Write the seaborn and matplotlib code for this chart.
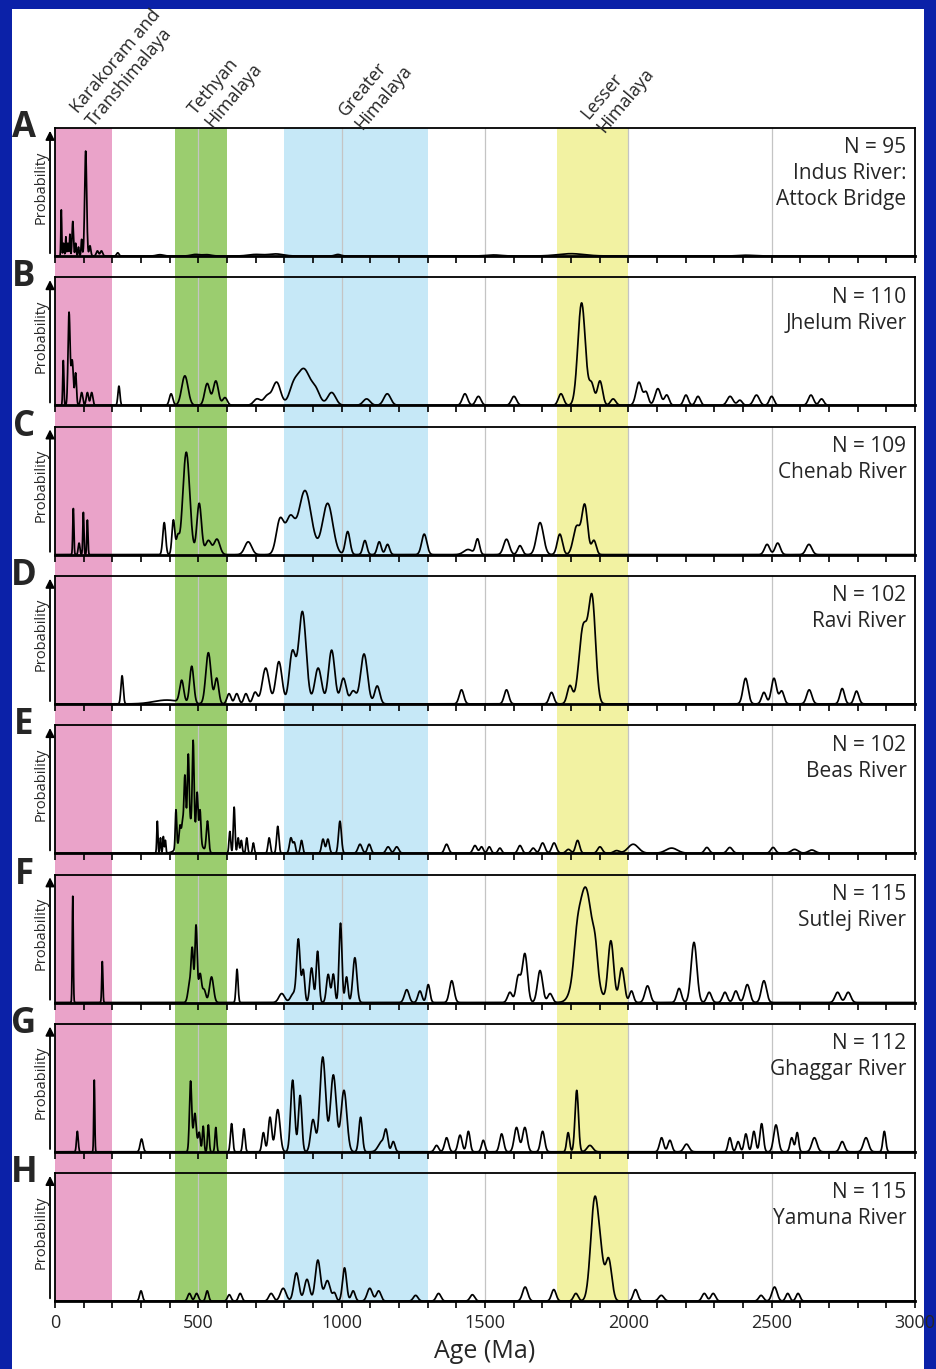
import numpy as np
import seaborn as sns
import matplotlib.pyplot as plt
from matplotlib.patches import Rectangle

# detrital zircon probability curves: (peak age Ma, relative height, 1-sigma Ma)
peaks_A = [(22, .36, 1.5), (30, .10, 2), (38, .15, 1.5), (45, .10, 2), (52, .17, 1.5), (62, .27, 2.5),
           (72, .10, 2), (82, .07, 2), (93, .13, 2), (107, .82, 3.5), (122, .08, 3), (148, .04, 4),
           (162, .04, 4), (219, .025, 4), (366, .01, 12), (490, .012, 15), (530, .01, 15), (700, .012, 25),
           (770, .016, 25), (987, .012, 10), (1530, .008, 25), (1800, .018, 45), (2410, .006, 25)]
peaks_B = [(29, .35, 2), (49, .72, 3.5), (60, .35, 4), (72, .25, 3), (93, .10, 4), (113, .10, 4),
           (128, .10, 4), (223, .15, 3.5), (405, .09, 6), (453, .23, 11), (531, .17, 9), (561, .19, 9),
           (593, .06, 8), (705, .05, 12), (740, .07, 12), (773, .18, 14), (831, .12, 15), (868, .28, 22),
           (910, .10, 15), (965, .10, 14), (1087, .05, 12), (1159, .09, 12), (1430, .09, 9), (1477, .07, 9),
           (1601, .07, 9), (1765, .09, 9), (1837, .80, 13), (1872, .16, 9), (1901, .19, 9), (1947, .05, 9),
           (2037, .18, 10), (2062, .10, 8), (2103, .13, 10), (2134, .08, 8), (2201, .08, 8), (2243, .07, 8),
           (2355, .07, 10), (2389, .04, 8), (2447, .08, 10), (2500, .07, 8), (2637, .08, 9), (2674, .05, 8)]
peaks_C = [(64, .36, 2), (84, .09, 3), (99, .33, 2), (113, .27, 2), (381, .25, 5), (413, .27, 5),
           (428, .12, 5), (458, .80, 12), (503, .40, 8), (535, .11, 10), (565, .12, 10), (674, .10, 12),
           (785, .27, 13), (820, .27, 15), (872, .50, 22), (951, .40, 18), (1021, .18, 8), (1081, .11, 7),
           (1131, .10, 7), (1160, .08, 7), (1288, .16, 9), (1441, .04, 15), (1474, .12, 7), (1575, .12, 10),
           (1622, .07, 8), (1692, .25, 12), (1761, .16, 9), (1820, .22, 12), (1848, .38, 10), (1880, .11, 8),
           (2484, .08, 9), (2521, .09, 9), (2630, .08, 10)]
peaks_D = [(234, .22, 4), (390, .03, 45), (442, .17, 7), (477, .29, 7), (535, .40, 9), (564, .20, 7),
           (607, .08, 7), (634, .08, 7), (666, .08, 7), (698, .09, 8), (735, .28, 12), (781, .33, 11),
           (828, .40, 11), (863, .72, 13), (918, .28, 12), (965, .42, 11), (1006, .20, 10), (1040, .10, 10),
           (1078, .39, 12), (1124, .14, 9), (1418, .11, 8), (1575, .11, 8), (1732, .09, 8), (1796, .14, 9),
           (1843, .60, 15), (1874, .78, 12), (2409, .20, 9), (2473, .09, 8), (2508, .20, 9), (2535, .10, 8),
           (2631, .11, 9), (2746, .12, 8), (2796, .10, 8)]
peaks_E = [(357, .25, 2), (368, .12, 2), (378, .13, 2), (385, .10, 2), (422, .30, 2.5), (436, .12, 3),
           (470, .25, 25), (445, .10, 3), (453, .41, 3), (465, .53, 3), (482, .66, 3), (496, .33, 3),
           (506, .25, 3), (532, .24, 4), (610, .17, 3), (625, .36, 3), (639, .12, 3), (650, .10, 3),
           (669, .12, 3), (692, .08, 3), (747, .12, 4), (777, .21, 4), (823, .12, 5), (835, .08, 4),
           (860, .10, 4), (935, .11, 5), (952, .11, 5), (994, .25, 5), (1064, .07, 7), (1096, .07, 6),
           (1162, .05, 7), (1192, .05, 7), (1366, .07, 7), (1465, .06, 7), (1488, .05, 6), (1515, .05, 6),
           (1552, .04, 6), (1622, .06, 7), (1668, .04, 7), (1701, .08, 8), (1741, .08, 8), (1791, .03, 8),
           (1823, .10, 7), (1901, .05, 8), (1959, .02, 10), (2017, .07, 18), (2151, .04, 20), (2274, .045, 8),
           (2354, .045, 9), (2505, .045, 8), (2580, .03, 12), (2640, .025, 12)]
peaks_F = [(62, .83, 1.8), (165, .32, 2), (470, .15, 6), (479, .38, 4), (492, .60, 4), (506, .22, 5),
           (520, .10, 6), (546, .20, 7), (635, .26, 3.5), (791, .07, 10), (832, .07, 10), (849, .48, 6),
           (866, .25, 5), (895, .27, 6), (916, .40, 5), (953, .22, 6), (971, .22, 5), (996, .62, 5),
           (1017, .20, 5), (1046, .35, 7), (1227, .10, 8), (1273, .09, 7), (1302, .14, 6), (1384, .17, 8),
           (1587, .08, 8), (1616, .20, 8), (1639, .38, 9), (1692, .25, 9), (1727, .07, 8), (1820, .15, 10),
           (1850, .90, 26), (1885, .15, 8), (1939, .48, 10), (1977, .27, 9), (2011, .09, 7), (2067, .13, 9),
           (2177, .11, 8), (2229, .47, 10), (2282, .08, 8), (2337, .08, 8), (2375, .09, 8), (2415, .14, 9),
           (2473, .17, 9), (2730, .08, 9), (2767, .08, 9)]
peaks_G = [(78, .16, 3), (137, .56, 1.8), (302, .10, 5), (473, .55, 4), (488, .30, 5), (503, .15, 4),
           (517, .20, 3), (535, .21, 3), (561, .19, 3), (616, .22, 4), (659, .18, 4), (727, .15, 5),
           (750, .27, 6), (777, .33, 8), (829, .56, 7), (855, .44, 6), (900, .25, 8), (934, .74, 10),
           (971, .60, 10), (1008, .48, 10), (1066, .27, 6), (1140, .08, 12), (1155, .14, 6), (1180, .08, 6),
           (1331, .05, 7), (1366, .11, 7), (1413, .13, 7), (1442, .16, 6), (1494, .09, 6), (1558, .14, 7),
           (1610, .19, 8), (1639, .19, 8), (1701, .16, 7), (1790, .15, 5), (1820, .48, 6), (1866, .05, 10),
           (2116, .11, 7), (2145, .09, 7), (2203, .06, 9), (2354, .11, 6), (2383, .08, 6), (2410, .14, 6),
           (2438, .16, 6), (2465, .22, 6), (2515, .21, 8), (2570, .11, 6), (2589, .15, 5), (2649, .11, 9),
           (2746, .08, 8), (2829, .11, 9), (2893, .16, 5)]
peaks_H = [(300, .08, 5), (469, .06, 6), (494, .06, 6), (531, .08, 5), (608, .05, 6), (646, .06, 6),
           (754, .06, 8), (796, .10, 10), (842, .22, 9), (879, .17, 9), (917, .32, 9), (950, .16, 10),
           (975, .06, 6), (1010, .26, 7), (1040, .08, 7), (1098, .10, 9), (1129, .08, 8), (1258, .045, 8),
           (1338, .06, 8), (1456, .05, 8), (1640, .11, 9), (1740, .09, 8), (1817, .06, 8), (1883, .80, 14),
           (1905, .20, 10), (1931, .33, 11), (2025, .09, 8), (2115, .045, 9), (2265, .06, 8), (2296, .06, 8),
           (2463, .045, 8), (2510, .11, 9), (2556, .06, 7), (2592, .06, 7)]

panel_peaks = [peaks_A, peaks_B, peaks_C, peaks_D, peaks_E, peaks_F, peaks_G, peaks_H]
panel_letters = ['A', 'B', 'C', 'D', 'E', 'F', 'G', 'H']
sample_n = [95, 110, 109, 102, 102, 115, 112, 115]
rivers = [['Indus River:', 'Attock Bridge'], ['Jhelum River'], ['Chenab River'], ['Ravi River'],
          ['Beas River'], ['Sutlej River'], ['Ghaggar River'], ['Yamuna River']]

band_names = ['Karakoram and\nTranshimalaya', 'Tethyan\nHimalaya', 'Greater\nHimalaya', 'Lesser\nHimalaya']
band_ranges = [(0, 200), (420, 600), (800, 1300), (1750, 2000)]
band_colors = ['#eaa3c9', '#9bcd6f', '#c6e8f7', '#f2f2a2']
age_ticks = [0, 500, 1000, 1500, 2000, 2500, 3000]

sns.set_style('white')
plt.rcParams['font.family'] = ['Open Sans', 'DejaVu Sans']

W, H = 936, 1369
fig = plt.figure(figsize=(W / 100, H / 100), dpi=100, facecolor='#0b21a8')
fig.add_artist(Rectangle((12 / W, 0), (924 - 12) / W, (H - 9) / H, transform=fig.transFigure,
                         facecolor='white', edgecolor='none', zorder=-1))

x0, xw = 55 / W, 860 / W
top0, step, ph = 128, 149.3, 128

# colour bands behind all panels
bg = fig.add_axes([x0, 1 - (top0 + 7 * step + ph) / H, xw, (7 * step + ph) / H], zorder=0)
bg.set_xlim(0, 3000)
bg.set_ylim(0, 1)
for (a, b), c in zip(band_ranges, band_colors):
    bg.axvspan(a, b, color=c, lw=0)
bg.axis('off')

grid = np.arange(0, 3001, 1.0)

for i, peaks in enumerate(panel_peaks):
    top = top0 + i * step
    ax = fig.add_axes([x0, 1 - (top + ph) / H, xw, ph / H], zorder=1)
    ax.set_facecolor('none')
    curve = np.zeros_like(grid)
    for age, h, s in peaks:
        curve += h * np.exp(-0.5 * ((grid - age) / s) ** 2)
    for g in age_ticks[1:-1]:
        ax.axvline(g, color='#c4c4c4', lw=0.9, zorder=1)
    sns.lineplot(x=grid, y=curve, ax=ax, color='black', lw=1.25, zorder=3)
    ax.set_xlim(0, 3000)
    ax.set_ylim(0, 1)
    ax.set_yticks([])
    ax.set_xlabel('')
    ax.set_ylabel('')
    ax.set_xticks(age_ticks)
    ax.set_xticks(np.arange(0, 3001, 100), minor=True)
    ax.tick_params(axis='x', which='both', direction='out', length=5, width=1.2, color='black',
                   bottom=True, labelbottom=(i == 7), labelsize=13, pad=4)
    for side in ['top', 'left', 'right']:
        ax.spines[side].set_linewidth(1.3)
        ax.spines[side].set_color('black')
    ax.spines['bottom'].set_linewidth(2)
    ax.spines['bottom'].set_color('black')

    ax.text(-0.036, 1.0, panel_letters[i], transform=ax.transAxes, ha='center', va='center',
            fontsize=25, fontweight='bold')
    ax.text(-0.0165, 0.54, 'Probability', transform=ax.transAxes, rotation=90,
            ha='center', va='center', fontsize=10.5)
    ax.annotate('', xy=(-0.0058, 1.0), xytext=(-0.0058, 0.0), xycoords='axes fraction',
                arrowprops=dict(arrowstyle='-|>', color='black', lw=1.3, mutation_scale=13),
                annotation_clip=False)
    lines = ['N = %d' % sample_n[i]] + rivers[i]
    for k, t in enumerate(lines):
        ax.text(0.99, 0.845 - k * 0.203, t, transform=ax.transAxes, ha='right', va='center', fontsize=15)

    if i == 7:
        ax.set_xlabel('Age (Ma)', fontsize=18, labelpad=5)

# rotated terrane labels above the top panel
label_pos = [(124, 68), (225, 89), (375, 91), (617, 94)]
for name, (px, py) in zip(band_names, label_pos):
    fig.text(px / W, 1 - py / H, name, rotation=50, ha='center', va='center',
             multialignment='left', fontsize=13)

fig.savefig('out.png', dpi=100, facecolor=fig.get_facecolor())
